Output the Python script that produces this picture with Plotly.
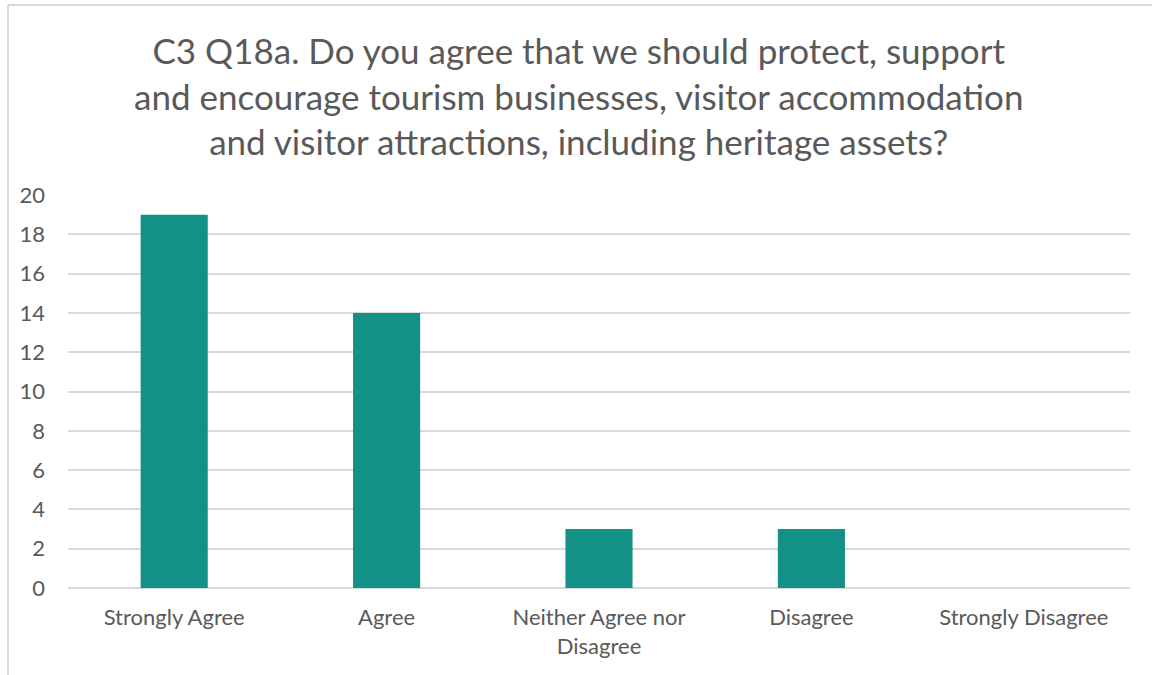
import plotly.graph_objects as go

categories = ["Strongly Agree", "Agree", "Neither Agree nor<br>Disagree", "Disagree", "Strongly Disagree"]
counts = [19, 14, 3, 3, 0]
y_ticks = [0, 2, 4, 6, 8, 10, 12, 14, 16, 18, 20]

title_text = ("C3 Q18a. Do you agree that we should protect, support<br>"
              "and encourage tourism businesses, visitor accommodation<br>"
              "and visitor attractions, including heritage assets?")

W, H = 1152, 675
L, R, T, B = 68, 22, 195, 87
plot_w = W - L - R
plot_h = H - T - B

text_col = "#595959"
grid_col = "#d9d9d9"
bar_col = "#139187"
font_family = "Lato, 'Open Sans', sans-serif"

fig = go.Figure(go.Bar(x=categories, y=counts, marker_color=bar_col, marker_line_width=0))

# chart frame (left and top edges visible)
fx0 = (8 - L) / plot_w
fy1 = (H - B - 5) / plot_h
fig.add_shape(type="line", xref="paper", yref="paper", x0=fx0, x1=fx0, y0=fy1, y1=-1,
              line=dict(color=grid_col, width=2))
fig.add_shape(type="line", xref="paper", yref="paper", x0=fx0, x1=2, y0=fy1, y1=fy1,
              line=dict(color=grid_col, width=2))

# chart title, centred over the whole frame
fig.add_annotation(text=title_text, xref="paper", yref="paper",
                   x=(578 - L) / plot_w, y=(H - B - 96) / plot_h,
                   xanchor="center", yanchor="middle", showarrow=False, align="center",
                   font=dict(size=35, color=text_col, family=font_family))

fig.update_layout(
    width=W, height=H,
    margin=dict(l=L, r=R, t=T, b=B),
    paper_bgcolor="white", plot_bgcolor="white",
    bargap=0.684,
    showlegend=False,
    font=dict(family=font_family, color=text_col),
    xaxis=dict(showgrid=False, showline=False, ticks="", tickfont=dict(size=22, color=text_col),
               ticklabelstandoff=14),
    yaxis=dict(range=[0, 20], tickvals=y_ticks, showgrid=True, gridcolor=grid_col, gridwidth=2,
               zeroline=True, zerolinecolor=grid_col, zerolinewidth=2, showline=False,
               ticks="", tickfont=dict(size=22, color=text_col), ticklabelstandoff=22),
)

fig.write_html("out.html")
